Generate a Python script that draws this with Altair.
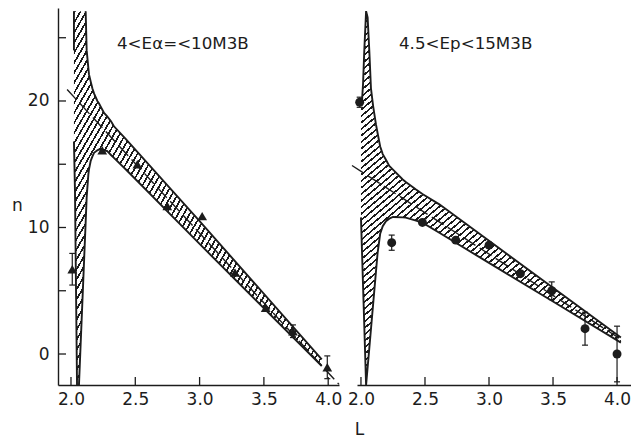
import math
import altair as alt
import pandas as pd

# ---------------- data ----------------
# Left panel: alpha particles, 4 < E_alpha <= 10 MeV
alpha_L = [2.01, 2.243, 2.516, 2.749, 3.02, 3.275, 3.514, 3.726, 3.993]
alpha_n = [6.7, 16.1, 15.0, 11.7, 10.9, 6.45, 3.65, 1.8, -1.05]
alpha_err = [1.25, 0, 0, 0, 0, 0, 0, 0.5, 0.9]

alpha_band_L = [2.023, 2.031, 2.047, 2.062, 2.114, 2.122, 2.135, 2.140, 2.153, 2.166,
                2.179, 2.205, 2.218, 2.257, 2.280, 2.311, 2.334, 2.425, 3.0, 3.95]
alpha_band_lo = [16.8, 12.9, -2.45, -2.45, 10.4, 12.4, 14.2, 14.6, 15.26, 15.6,
                 15.9, 16.1, 16.17, 16.1, 16.05, 15.73, 15.5, 14.6, 8.7, -0.95]
alpha_band_hi = [27.1, 27.1, 27.1, 27.1, 27.1, 24.0, 22.6, 22.1, 21.55, 21.0,
                 20.6, 20.0, 19.8, 19.05, 18.8, 18.4, 18.0, 17.0, 10.5, -0.42]
alpha_cap_L = [2.023, 2.023]
alpha_cap_n = [27.1, 24.0]
alpha_fit_L = [1.97, 4.084]
alpha_fit_n = [20.9, -2.4]

# Right panel: protons, 4.5 < E_p < 15 MeV
prot_L = [1.99, 2.24, 2.48, 2.74, 3.0, 3.245, 3.49, 3.75, 4.0]
prot_n = [19.9, 8.8, 10.4, 9.0, 8.6, 6.35, 5.0, 2.0, 0.0]
prot_err = [0.4, 0.6, 0, 0, 0, 0, 0.7, 1.3, 2.2]

prot_band_L = [2.000, 2.008, 2.016, 2.026, 2.040, 2.052, 2.065, 2.078, 2.095, 2.117,
               2.130, 2.150, 2.170, 2.195, 2.221, 2.250, 2.326, 2.350, 2.430, 2.480,
               2.612, 3.0, 3.5, 4.03]
prot_band_lo = [10.8, 8.15, 5.5, 2.2, -2.45, -1.06, 0.45, 1.96, 3.94, 6.49,
                8.0, 9.5, 10.1, 10.5, 10.7, 10.83, 10.8, 10.78, 10.55, 10.38,
                9.58, 7.2, 4.15, 0.9]
prot_band_hi = [19.6, 20.0, 21.3, 24.0, 27.1, 26.6, 24.0, 21.0, 19.6, 18.15,
                17.45, 16.4, 15.8, 15.35, 14.86, 14.57, 13.8, 13.6, 13.0, 12.65,
                11.83, 8.95, 5.23, 1.3]
prot_fit_L = [1.93, 4.04]
prot_fit_n = [14.9, 1.1]

x_ticks = [2.0, 2.5, 3.0, 3.5, 4.0]
y_ticks = [0, 5, 10, 15, 20, 25]
y_labels = [0, 10, 20]
title_left = "4<Eα=<10M3B"
title_right = "4.5<Ep<15M3B"

# ---------------- layout / style ----------------
FONT = "DejaVu Sans"
INK = "#1c1c1c"
H = 377
WL, WR = 281, 274
XDOM_L = [1.899, 4.084]
XDOM_R = [1.969, 4.109]
YDOM = [-2.45, 27.35]


def hatch(Ls, lo, hi, xdom, w_px, theta_deg, spacing, frac=0.33):
    px_x = w_px / (xdom[1] - xdom[0])
    px_y = H / (YDOM[1] - YDOM[0])
    w = (max(Ls) - min(Ls)) * px_x
    h = (max(hi) - min(lo)) * px_y
    th = math.radians(theta_deg)
    a = math.sin(th) / h
    b = math.cos(th) / w
    s = (a + b) / (a * a + b * b)
    n = int(round((w * math.sin(th) + h * math.cos(th)) / spacing))
    stops = []
    for i in range(n):
        o0, o1, o2 = i / n, (i + frac) / n, (i + 1) / n
        stops += [{"offset": o0, "color": INK}, {"offset": o1, "color": INK},
                  {"offset": o1, "color": "white"}, {"offset": o2, "color": "white"}]
    return {"gradient": "linear", "stops": stops, "x1": 0, "y1": 0,
            "x2": s * a, "y2": s * b}


def panel(pts_L, pts_n, pts_err, band_L, band_lo, band_hi, fit_L, fit_n,
          outlines, xdom, width, shape, size, label, left, theta):
    xax = dict(values=x_ticks, format=".1f", labelPadding=6, ticks=False,
               grid=False, domainColor=INK, domainWidth=1.4)
    if left:
        xax["title"] = None
        yax = alt.Axis(values=y_labels, ticks=False, grid=False, labelPadding=9,
                       domainColor=INK, domainWidth=1.4, title="n", titleAngle=0,
                       titleX=-41, titleY=197, titleAlign="center",
                       titleBaseline="middle")
    else:
        xax.update(title="L", titleX=2, titleY=44, titleAlign="center",
                   titleBaseline="middle")
        yax = None
    X = alt.X("L:Q", scale=alt.Scale(domain=xdom, nice=False, zero=False),
              axis=alt.Axis(**xax))
    Y = alt.Y("n:Q", scale=alt.Scale(domain=YDOM, nice=False, zero=False),
              axis=yax)

    band = pd.DataFrame({"L": band_L, "n": band_lo, "hi": band_hi})
    area = alt.Chart(band).mark_area(
        fill=hatch(band_L, band_lo, band_hi, xdom, width, theta, 5.0),
        opacity=1, interpolate="linear"
    ).encode(x=X, y=Y, y2="hi:Q")

    rows = []
    for k, (Ls, ns) in enumerate(outlines):
        for i, (l, v) in enumerate(zip(Ls, ns)):
            rows.append({"L": l, "n": v, "seg": k, "i": i})
    edges = alt.Chart(pd.DataFrame(rows)).mark_line(
        color=INK, strokeWidth=1.9
    ).encode(x=X, y=Y, detail="seg:N", order="i:Q")

    fit = alt.Chart(pd.DataFrame({"L": fit_L, "n": fit_n})).mark_line(
        color=INK, strokeWidth=1.4, strokeDash=[14, 5]
    ).encode(x=X, y=Y)

    xt = alt.Chart(pd.DataFrame({"L": x_ticks})).mark_rule(
        color=INK, strokeWidth=1.3
    ).encode(x=X, y=alt.value(H), y2=alt.value(H - 8))
    layers = [area, edges, fit, xt]
    if left:
        yt = alt.Chart(pd.DataFrame({"n": y_ticks})).mark_rule(
            color=INK, strokeWidth=1.3
        ).encode(y=Y, x=alt.value(0), x2=alt.value(8))
        layers.append(yt)

    e = pd.DataFrame({"L": pts_L, "c": pts_n, "err": pts_err})
    e = e[e["err"] > 0].copy()
    e["n"] = e["c"] - e["err"]
    e["hi"] = e["c"] + e["err"]
    bars = alt.Chart(e).mark_rule(color=INK, strokeWidth=1.2).encode(
        x=X, y=Y, y2="hi:Q")
    cap_lo = alt.Chart(e).mark_tick(orient="horizontal", size=6, thickness=1.2,
                                    color=INK, opacity=1).encode(x=X, y=Y)
    cap_hi = alt.Chart(e).mark_tick(orient="horizontal", size=6, thickness=1.2,
                                    color=INK, opacity=1).encode(
        x=X, y=alt.Y("hi:Q", scale=alt.Scale(domain=YDOM, nice=False, zero=False),
                     axis=yax))
    pts = alt.Chart(pd.DataFrame({"L": pts_L, "n": pts_n})).mark_point(
        shape=shape, filled=True, size=size, color=INK, opacity=1
    ).encode(x=X, y=Y)
    txt = alt.Chart(pd.DataFrame({"label": [label]})).mark_text(
        align="left", baseline="middle", font=FONT, fontSize=16.7, color=INK
    ).encode(x=alt.value(59 if left else 42), y=alt.value(36), text="label:N")
    layers += [bars, cap_lo, cap_hi, pts, txt]
    return alt.layer(*layers).properties(width=width, height=H)


a_lo_line = [(l, v) for l, v in zip(alpha_band_L, alpha_band_lo) if l >= 2.062]
a_left_line = [(l, v) for l, v in zip(alpha_band_L, alpha_band_lo) if l <= 2.047]
a_hi_line = [(l, v) for l, v in zip(alpha_band_L, alpha_band_hi) if l >= 2.114]
alpha_outlines = [
    (alpha_cap_L, alpha_cap_n),
    ([p[0] for p in a_left_line], [p[1] for p in a_left_line]),
    ([p[0] for p in a_lo_line], [p[1] for p in a_lo_line]),
    ([p[0] for p in a_hi_line], [p[1] for p in a_hi_line]),
]
p_hi_line = [(l, v) for l, v in zip(prot_band_L, prot_band_hi) if l >= 2.008]
prot_outlines = [
    (prot_band_L, prot_band_lo),
    ([p[0] for p in p_hi_line], [p[1] for p in p_hi_line]),
]

left = panel(alpha_L, alpha_n, alpha_err, alpha_band_L, alpha_band_lo, alpha_band_hi,
             alpha_fit_L, alpha_fit_n, alpha_outlines, XDOM_L, WL, "triangle-up", 95,
             title_left, True, 60)
right = panel(prot_L, prot_n, prot_err, prot_band_L, prot_band_lo, prot_band_hi,
              prot_fit_L, prot_fit_n, prot_outlines, XDOM_R, WR, "circle", 80,
              title_right, False, 40)

chart = alt.hconcat(left, right, spacing=5).properties(
    padding={"left": 11, "top": 7, "right": 0, "bottom": 0},
    background="white",
).configure_view(stroke=None).configure_axis(
    labelFont=FONT, labelFontSize=17, labelColor=INK,
    titleFont=FONT, titleFontSize=17, titleFontWeight="normal", titleColor=INK,
)

chart.save("out.html", embed_options={"renderer": "svg", "actions": False})
